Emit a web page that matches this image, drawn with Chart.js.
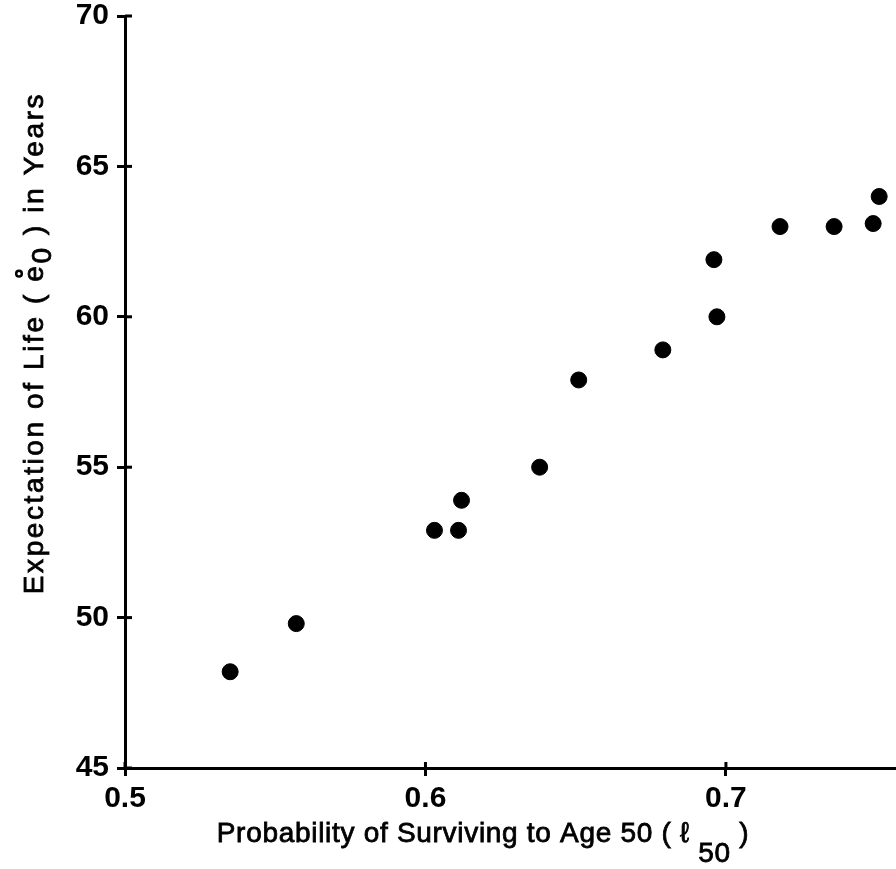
<!DOCTYPE html>
<html>
<head>
<meta charset="utf-8">
<script src="https://cdn.jsdelivr.net/npm/chart.js@4"></script>
<style>
  body{margin:0;background:#fff}
  canvas{display:block}
</style>
</head>
<body>
<canvas id="chart" width="896" height="869"></canvas>
<script>
// survival to age 50 vs life expectancy
const survival50 = [0.535, 0.557, 0.603, 0.611, 0.612, 0.638, 0.651, 0.679, 0.696, 0.697, 0.718, 0.736, 0.749, 0.751];
const lifeExp    = [48.2, 49.8, 52.9, 52.9, 53.9, 55.0, 57.9, 58.9, 61.9, 60.0, 63.0, 63.0, 63.1, 64.0];
const xTicks = [0.5, 0.6, 0.7];
const yTicks = [45, 50, 55, 60, 65, 70];

const FONT = '"Liberation Sans", Arial, "DejaVu Sans", sans-serif';
const tickFont = { family: FONT, size: 30, weight: 'bold' };

// draws a label made of pieces, some lowered like subscripts
function drawPieces(ctx, pieces, cx, baseline){
  const total = pieces.reduce((w,p)=> w + ctx.measureText(p.t).width, 0);
  let x = cx - total/2;
  pieces.forEach(p =>{
    const w = ctx.measureText(p.t).width;
    ctx.fillText(p.t, x, baseline + (p.dy||0));
    ctx.strokeText(p.t, x, baseline + (p.dy||0));
    if(p.ring){
      ctx.beginPath();
      ctx.arc(x + w/2 - 1, baseline - 24, 2.8, 0, Math.PI*2);
      ctx.lineWidth = 2.5;
      ctx.stroke();
      ctx.lineWidth = 0.8;
    }
    x += w;
  });
}

const titlesPlugin = {
  id: 'titles',
  afterDraw(chart){
    const ctx = chart.ctx;
    ctx.save();
    ctx.fillStyle = '#000';
    ctx.strokeStyle = '#000';
    ctx.lineWidth = 0.8;
    ctx.font = '28px ' + FONT;
    ctx.textBaseline = 'alphabetic';
    ctx.letterSpacing = '0.7px';
    drawPieces(ctx, [
      {t:'Probability of Surviving to Age 50 ( '},
      {t:'ℓ'},
      {t:' '},
      {t:'50', dy: 20},
      {t:' )'}
    ], 483, 842);

    ctx.letterSpacing = '2.6px';
    ctx.translate(43, 343);
    ctx.rotate(-Math.PI/2);
    drawPieces(ctx, [
      {t:'Expectation of Life ( '},
      {t:'e', ring: true},
      {t:'0', dy: 8},
      {t:' ) in Years'}
    ], 0, 0);
    ctx.restore();
  }
};

// short tick marks on the inner side of both axes
const innerTicks = {
  id: 'innerTicks',
  afterDraw(chart){
    const ctx = chart.ctx, a = chart.chartArea;
    const xs = chart.scales.x, ys = chart.scales.y;
    ctx.save();
    ctx.strokeStyle = '#000';
    ctx.lineWidth = 3;
    xTicks.forEach(v =>{
      const px = xs.getPixelForValue(v);
      ctx.beginPath(); ctx.moveTo(px, a.bottom); ctx.lineTo(px, a.bottom - 6); ctx.stroke();
    });
    yTicks.forEach(v =>{
      const py = ys.getPixelForValue(v);
      ctx.beginPath(); ctx.moveTo(a.left, py); ctx.lineTo(a.left + 7, py); ctx.stroke();
    });
    ctx.restore();
  }
};

new Chart(document.getElementById('chart').getContext('2d'), {
  type: 'scatter',
  data: {
    datasets: [{
      data: survival50.map((x,i)=>({x, y: lifeExp[i]})),
      backgroundColor: '#000',
      borderColor: '#000',
      pointRadius: 8,
      pointHoverRadius: 8
    }]
  },
  options: {
    responsive: false,
    animation: false,
    layout: { autoPadding: false, padding: { top: 16, right: 0, bottom: 0, left: 0 } },
    plugins: { legend: { display: false }, tooltip: { enabled: false } },
    scales: {
      x: {
        type: 'linear', min: 0.5, max: 0.7566,
        afterBuildTicks: s => { s.ticks = xTicks.map(v => ({value: v})); },
        afterFit: s => { s.height = 101; s.paddingLeft = 0; s.paddingRight = 0; },
        ticks: { font: tickFont, color: '#000', padding: 5, callback: v => v.toFixed(1) },
        grid: { drawOnChartArea: false, tickLength: 8, tickWidth: 3, color: '#000' },
        border: { color: '#000', width: 3 }
      },
      y: {
        type: 'linear', min: 45, max: 70,
        afterBuildTicks: s => { s.ticks = yTicks.map(v => ({value: v})); },
        afterFit: s => { s.width = 125; s.paddingTop = 0; s.paddingBottom = 0; },
        ticks: { font: tickFont, color: '#000', padding: 8 },
        grid: { drawOnChartArea: false, tickLength: 8, tickWidth: 3, color: '#000' },
        border: { color: '#000', width: 3 }
      }
    }
  },
  plugins: [titlesPlugin, innerTicks]
});
</script>
</body>
</html>
